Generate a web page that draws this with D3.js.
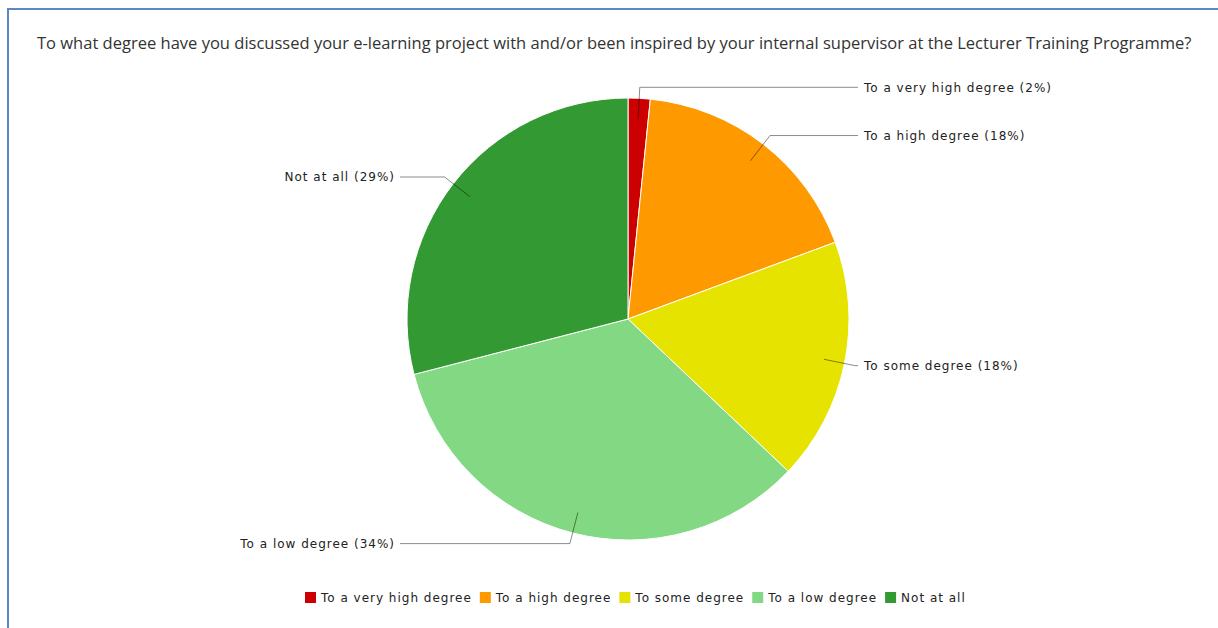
<!DOCTYPE html>
<html>
<head>
<meta charset="utf-8">
<script src="https://cdn.jsdelivr.net/npm/d3@7"></script>
<style>
  html, body { margin: 0; padding: 0; background: #fff; }
  svg { display: block; }
</style>
</head>
<body>
<svg id="chart" width="1218" height="628"></svg>
<script>
const title = "To what degree have you discussed your e-learning project with and/or been inspired by your internal supervisor at the Lecturer Training Programme?";
const categories = ["To a very high degree", "To a high degree", "To some degree", "To a low degree", "Not at all"];
const counts = [1, 11, 11, 21, 18];
const colors = ["#cc0000", "#ff9900", "#e6e300", "#83d883", "#339933"];

const W = 1218, H = 628;
const svg = d3.select("#chart");

// frame
svg.append("rect").attr("x", 8).attr("y", 9).attr("width", W + 10).attr("height", H + 10)
  .attr("fill", "#fff").attr("stroke", "#5b87c4").attr("stroke-width", 2);

// title fitted to reference width
const t = svg.append("text").attr("x", 37).attr("y", 49)
  .attr("font-family", "'Open Sans', sans-serif").attr("font-size", 15)
  .attr("fill", "#333").text(title);
const tw = t.node().getComputedTextLength();
t.attr("font-size", 15 * 1156 / tw);

const cx = 628, cy = 319, R = 221;
const total = d3.sum(counts);
const data = categories.map((c, i) => ({ cat: c, value: counts[i], color: colors[i], pct: Math.round(counts[i] / total * 100) }));

const pie = d3.pie().value(d => d.value).sort(null);
const arcs = pie(data);
const arc = d3.arc().innerRadius(0).outerRadius(R);

const g = svg.append("g").attr("transform", `translate(${cx},${cy})`);
g.selectAll("path").data(arcs).join("path")
  .attr("d", arc).attr("fill", d => d.data.color)
  .attr("stroke", "#fff").attr("stroke-width", 1);

// font calibration: reference "To a very high degree (2%)" is ~188px wide
const labelFont = "'DejaVu Sans', Verdana, sans-serif";
const labelSize = 12;
const probeStr = "To a very high degree (2%)";
const probe = svg.append("text").attr("font-family", labelFont).attr("font-size", labelSize).text(probeStr);
const pw = probe.node().getComputedTextLength();
probe.remove();
const ls = Math.max(0, (188 - pw) / probeStr.length);

// leader lines and labels
arcs.forEach(a => {
  const mid = (a.startAngle + a.endAngle) / 2;
  const p1 = [Math.sin(mid) * 200, -Math.cos(mid) * 200];
  const p2 = [Math.sin(mid) * 232, -Math.cos(mid) * 232];
  const right = Math.sin(mid) > 0;
  const xEnd = right ? 858 - cx : 400 - cx;
  g.append("polyline")
    .attr("points", [p1, p2, [xEnd, p2[1]]].map(p => p.join(",")).join(" "))
    .attr("fill", "none").attr("stroke", "#000").attr("stroke-opacity", 0.45).attr("stroke-width", 1);
  g.append("text")
    .attr("x", right ? xEnd + 6 : xEnd - 6 + ls)
    .attr("y", p2[1])
    .attr("dy", "0.35em")
    .attr("text-anchor", right ? "start" : "end")
    .attr("font-family", labelFont).attr("font-size", labelSize)
    .attr("letter-spacing", ls)
    .attr("fill", "#222")
    .text(`${a.data.cat} (${a.data.pct}%)`);
});

// legend
const leg = svg.append("g");
let x = 0;
data.forEach(d => {
  const it = leg.append("g").attr("transform", `translate(${x},0)`);
  it.append("rect").attr("x", 0).attr("y", -6).attr("width", 11).attr("height", 11).attr("fill", d.color);
  const tx = it.append("text").attr("x", 16).attr("y", 0).attr("dy", "0.35em")
    .attr("font-family", labelFont).attr("font-size", labelSize).attr("letter-spacing", ls)
    .attr("fill", "#222").text(d.cat);
  x += 16 + tx.node().getComputedTextLength() + 8;
});
const legW = x - 8;
leg.attr("transform", `translate(${305},598)`);
</script>
</body>
</html>
